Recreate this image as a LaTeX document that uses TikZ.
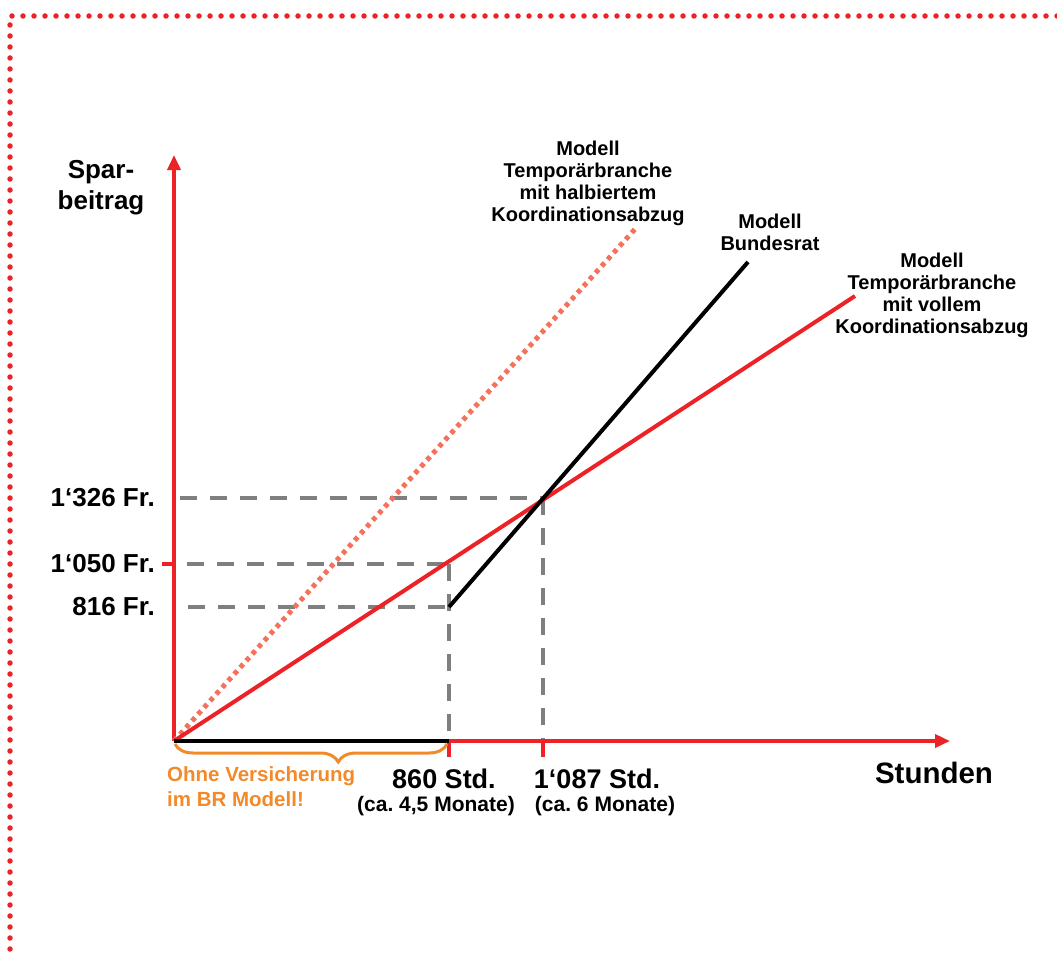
\documentclass[tikz,border=0pt]{standalone}
\usepackage{fontspec}
\setmainfont{Liberation Sans}
\frenchspacing
\usetikzlibrary{arrows.meta,decorations.pathreplacing}
\definecolor{axred}{HTML}{EC2227}
\definecolor{salmon}{HTML}{F4715C}
\definecolor{brorange}{HTML}{F28A2A}
\definecolor{dashgray}{HTML}{7F7F7F}
\tikzset{
  axis/.style={axred, line width=3.5pt, -{Triangle[length=15pt,width=13pt]}},
  guide/.style={dashgray, line width=4pt, dash pattern=on 17pt off 13pt},
  redline/.style={axred, line width=4pt},
  blackline/.style={black, line width=4pt},
  dotline/.style={salmon, line width=5pt, dash pattern=on 4.5pt off 4.5pt},
  tick/.style={axred, line width=3.5pt},
  lbl/.style={inner sep=0pt, align=center, font=\fontsize{20}{22}\selectfont\bfseries},
  big/.style={inner sep=0pt, font=\fontsize{26}{31}\selectfont\bfseries},
  std/.style={inner sep=0pt, font=\fontsize{27}{31}\selectfont\bfseries},
  small/.style={inner sep=0pt, font=\fontsize{21}{22}\selectfont\bfseries},
  border/.style={axred, line width=5.5pt, line cap=round, dash pattern=on 0pt off 11pt}
}
\begin{document}
\begin{tikzpicture}[x=1pt,y=-1pt]
\useasboundingbox (0,0) rectangle (1057,955);
% border
\coordinate (bc) at (10,16);
\coordinate (br) at (1057,16);
\coordinate (bb) at (10,955);
\draw[border] (br) -- (bc) -- (bb);

% key coordinates
\coordinate (O) at (174,741);
\coordinate (ytop) at (174,155);
\coordinate (xend) at (950,741);
\coordinate (a860) at (449,741);
\coordinate (a1087) at (543,741);
\coordinate (y1326) at (180,498);
\coordinate (y1050) at (187,564);
\coordinate (y816) at (188,607);
\coordinate (p1326) at (543,498);
\coordinate (p1050) at (449,564);
\coordinate (p816) at (449,607);
\coordinate (redend) at (855,296);
\coordinate (brend) at (748,262);
\coordinate (dotend) at (636,228);
\coordinate (t1050) at (162,564);
\coordinate (yt1050) at (174,564);
\coordinate (tk860) at (449,757);
\coordinate (tk1087) at (543,757);

% guides
\draw[guide] (y1326) -- (p1326);
\draw[guide] (y1050) -- (p1050);
\draw[guide] (y816) -- (p816);
\draw[guide] (p1050) -- (a860);
\draw[guide] (p1326) -- (a1087);

% axes
\draw[axis] (O) -- (ytop);
\draw[axis] (O) -- (xend);
\draw[tick] (t1050) -- (yt1050);
\draw[tick] (a860) -- (tk860);
\draw[tick] (a1087) -- (tk1087);

% model lines
\draw[dotline] (O) -- (dotend);
\draw[redline] (O) -- (redend);
\draw[blackline] (O) -- (a860);
\draw[blackline] (p816) -- (brend);

% brace
\draw[brorange, line width=3pt, decorate,
      decoration={brace, mirror, amplitude=18pt, aspect=0.6}] (175,744) -- (447,744);

% labels
\node[big, align=center] (ylab) at (101,188) {Spar-\\beitrag};
\node[inner sep=0pt, font=\fontsize{29.5}{31}\selectfont\bfseries] (xlab) at (934,773) {Stunden};
\node[big, anchor=east] (l1326) at (155,498) {1‘326 Fr.};
\node[big, anchor=east] (l1050) at (155,564) {1‘050 Fr.};
\node[big, anchor=east] (l816) at (155,607) {816 Fr.};
\node[std] (l860) at (444,779) {860 Std.};
\node[small] (m860) at (436,806) {(ca. 4,5 Monate)};
\node[std] (l1087) at (597,779) {1‘087 Std.};
\node[small] (m1087) at (605,806) {(ca. 6 Monate)};
\node[lbl, text=brorange, align=left, anchor=north west,
      font=\fontsize{20.5}{25}\selectfont\bfseries] (ohne) at (167,766) {Ohne Versicherung\\im BR Modell!};
\node[lbl] (mhalb) at (588,183) {Modell\\Temporärbranche\\mit halbiertem\\Koordinationsabzug};
\node[lbl] (mbr) at (770,232) {Modell\\Bundesrat};
\node[lbl] (mvoll) at (932,295) {Modell\\Temporärbranche\\mit vollem\\Koordinationsabzug};
\end{tikzpicture}
\end{document}
